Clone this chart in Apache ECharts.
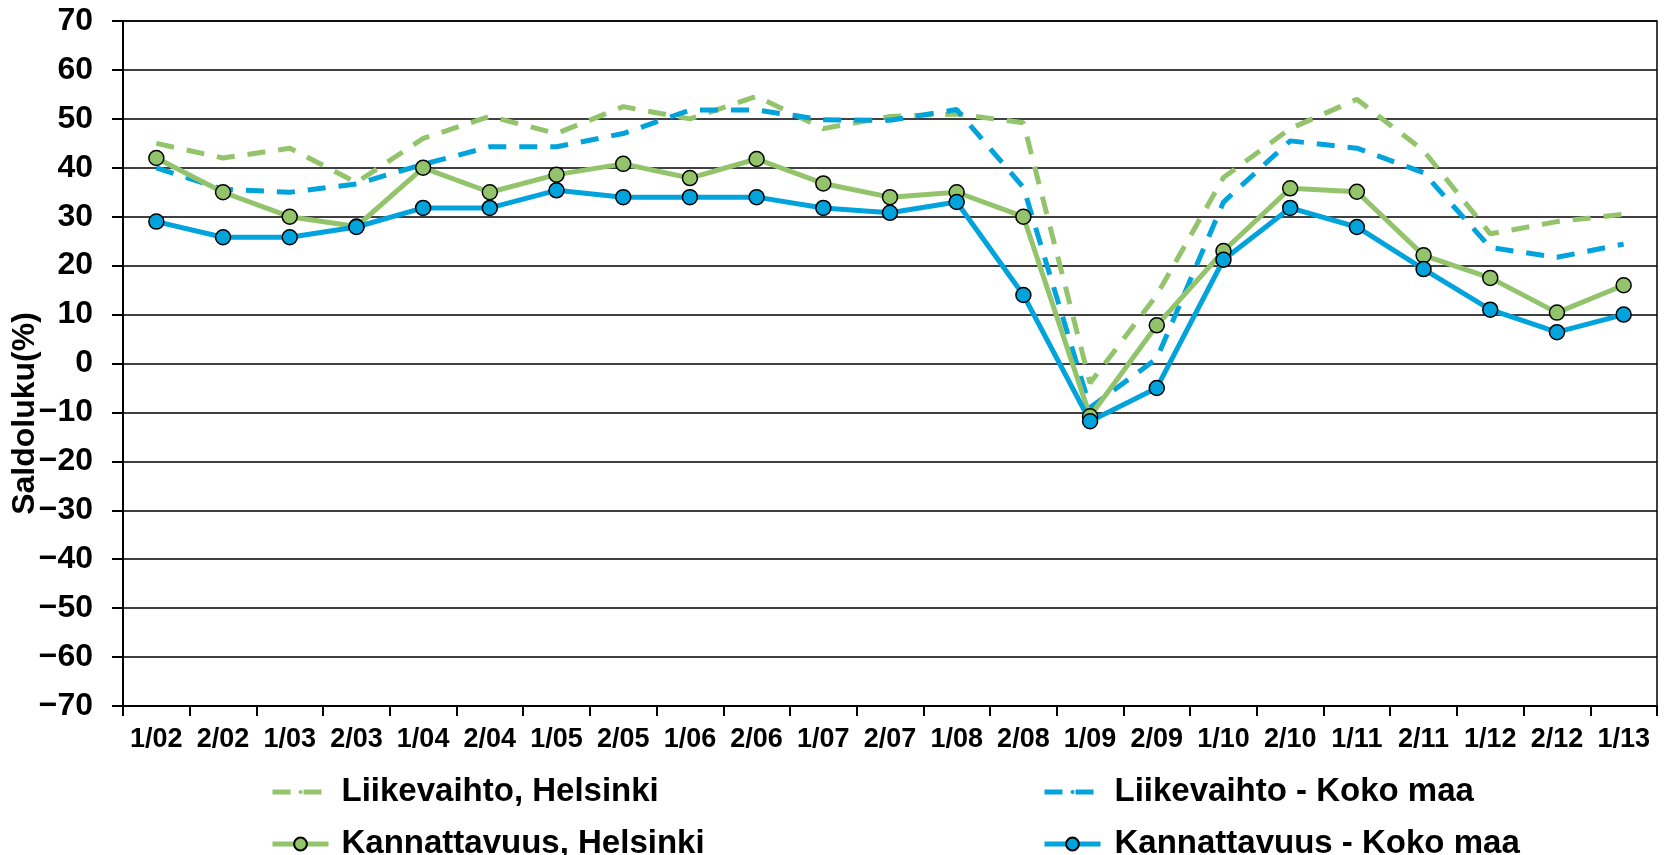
<!DOCTYPE html>
<html>
<head>
<meta charset="utf-8">
<script src="https://cdn.jsdelivr.net/npm/echarts@6/dist/echarts.min.js"></script>
<style>
  html, body { margin: 0; padding: 0; background: #fff; }
  #chart { width: 1672px; height: 855px; }
</style>
</head>
<body>
<div id="chart"></div>
<script>
  // half-year periods, 1/02 .. 1/13
  const categories = ['1/02', '2/02', '1/03', '2/03', '1/04', '2/04', '1/05', '2/05', '1/06', '2/06',
    '1/07', '2/07', '1/08', '2/08', '1/09', '2/09', '1/10', '2/10', '1/11', '2/11', '1/12', '2/12', '1/13'];

  const liikevaihtoHelsinki = [45, 42, 44, 37, 46, 50.5, 47, 52.5, 50, 54.6, 48, 50.5, 51, 49.2,
    -4, 14, 38, 48, 54, 43.5, 26.5, 29, 30.5];
  const liikevaihtoKokoMaa = [40, 35.6, 35, 36.7, 40.7, 44.3, 44.3, 47, 51.8, 51.8, 49.8, 49.7, 51.9, 36,
    -9, 1, 33, 45.5, 44, 39, 23.7, 21.7, 24.4];
  const kannattavuusHelsinki = [42, 35, 30, 28, 40, 35, 38.6, 40.8, 37.9, 41.8, 36.8, 34, 35, 30,
    -10.8, 7.8, 23, 35.8, 35.1, 22.1, 17.5, 10.4, 16];
  const kannattavuusKokoMaa = [29, 25.8, 25.8, 27.9, 31.8, 31.8, 35.4, 34, 34, 34, 31.8, 30.8, 33, 14,
    -11.8, -5, 21.2, 31.8, 27.9, 19.3, 11, 6.4, 10];

  const GREEN = '#93C46B';
  const BLUE = '#00A3DC';
  const FONT = "'Liberation Sans', Arial, sans-serif";

  // two short dashes, used as the legend icon of the dashed series
  const DASH_ICON = 'path://M0,0H19V5H0Z M37,0H56V5H37Z';

  function dashed(name, data, color) {
    return {
      name, type: 'line', data,
      symbol: 'none',
      legendIcon: DASH_ICON,
      lineStyle: { color, width: 5, type: [18, 13] },
      itemStyle: { color },
      animation: false
    };
  }

  function marked(name, data, color) {
    return {
      name, type: 'line', data,
      symbol: 'circle', symbolSize: 15,
      lineStyle: { color, width: 5 },
      itemStyle: { color, borderColor: '#000', borderWidth: 1.5 },
      animation: false
    };
  }

  // one legend per entry so the 2x2 layout is fixed
  function legendItem(name, left, top, dashedIcon, padLeft) {
    return {
      data: [name],
      left, top,
      padding: 0,
      itemWidth: 56,
      itemHeight: dashedIcon ? 5 : 16,
      lineStyle: { width: 5 },
      textStyle: {
        fontFamily: FONT, fontWeight: 'bold', fontSize: 33, color: '#000',
        lineHeight: 38, padding: [0, 0, 0, padLeft]
      }
    };
  }

  const chart = echarts.init(document.getElementById('chart'), null, { renderer: 'canvas' });
  chart.setOption({
    backgroundColor: '#fff',
    grid: {
      left: 123, right: 15, top: 21, bottom: 149,
      outerBoundsMode: 'none',
      show: true, borderColor: '#000', borderWidth: 1.5
    },
    legend: [
      legendItem('Liikevaihto, Helsinki', 270, 773, true, 8),
      legendItem('Kannattavuus, Helsinki', 270, 825, false, 8),
      legendItem('Liikevaihto - Koko maa', 1042, 773, true, 9),
      legendItem('Kannattavuus - Koko maa', 1042, 825, false, 9)
    ],
    xAxis: {
      type: 'category',
      data: categories,
      boundaryGap: true,
      axisLine: { onZero: false, lineStyle: { color: '#000', width: 2 } },
      axisTick: { show: true, length: 10, lineStyle: { color: '#000', width: 2 } },
      axisLabel: {
        interval: 0, margin: 20,
        fontFamily: FONT, fontWeight: 'bold', fontSize: 27, color: '#000'
      }
    },
    yAxis: {
      type: 'value',
      min: -70, max: 70, interval: 10,
      name: 'Saldoluku(%)',
      nameLocation: 'middle',
      nameGap: 82,
      nameMoveOverlap: false,
      nameTextStyle: {
        fontFamily: FONT, fontWeight: 'bold', fontSize: 32, color: '#000',
        padding: [0, 100, 0, 0]
      },
      axisLine: { show: true, lineStyle: { color: '#000', width: 2 } },
      axisTick: { show: true, length: 11, lineStyle: { color: '#000', width: 2 } },
      splitLine: { show: true, lineStyle: { color: '#000', width: 1.5 } },
      axisLabel: {
        margin: 30,
        fontFamily: FONT, fontWeight: 'bold', fontSize: 32, color: '#000',
        formatter: v => String(v).replace('-', '\u2212')
      }
    },
    series: [
      dashed('Liikevaihto, Helsinki', liikevaihtoHelsinki, GREEN),
      dashed('Liikevaihto - Koko maa', liikevaihtoKokoMaa, BLUE),
      marked('Kannattavuus, Helsinki', kannattavuusHelsinki, GREEN),
      marked('Kannattavuus - Koko maa', kannattavuusKokoMaa, BLUE)
    ]
  });
</script>
</body>
</html>
